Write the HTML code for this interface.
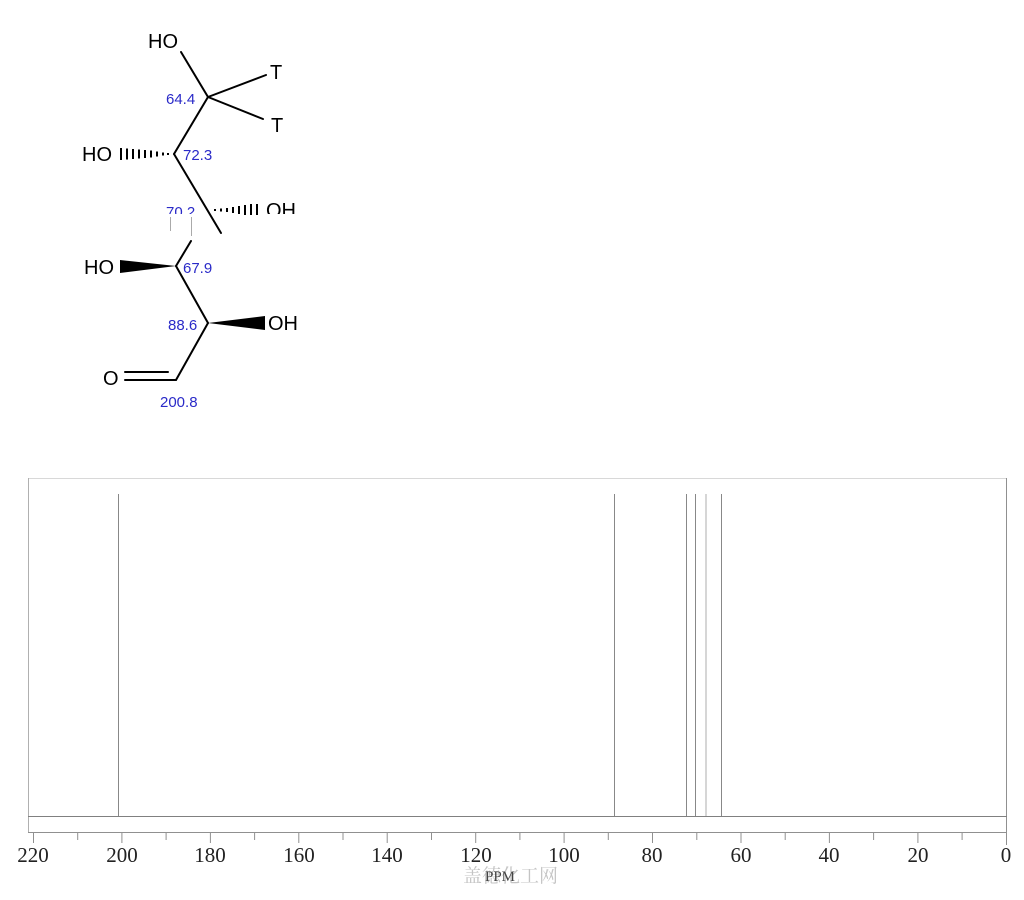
<!DOCTYPE html>
<html><head><meta charset="utf-8"><style>
html,body{margin:0;padding:0;background:#fff;}
svg{display:block;}
</style></head><body>
<svg width="1024" height="900" viewBox="0 0 1024 900" xmlns="http://www.w3.org/2000/svg">
<rect width="1024" height="900" fill="#fff"/>
<!-- Structure -->
<g stroke="#000" stroke-width="2" fill="none" stroke-linecap="round">
<line x1="181" y1="52" x2="208" y2="97"/>
<line x1="208" y1="97" x2="266" y2="75"/>
<line x1="208" y1="97" x2="263" y2="119"/>
<line x1="208" y1="97" x2="174" y2="154"/>
<line x1="174" y1="154" x2="221" y2="233"/>
<line x1="191" y1="241" x2="176" y2="266"/>
<line x1="176" y1="266" x2="208" y2="323"/>
<line x1="208" y1="323" x2="176" y2="380"/>
<line x1="125" y1="380" x2="176" y2="380"/>
<line x1="125" y1="372" x2="168" y2="372"/>
</g>
<!-- hashed wedge C2 -->
<g stroke="#000" stroke-width="2">
<line x1="121" y1="148" x2="121" y2="160"/>
<line x1="127" y1="148.5" x2="127" y2="159.5"/>
<line x1="133" y1="149" x2="133" y2="159"/>
<line x1="139" y1="149.5" x2="139" y2="158.5"/>
<line x1="145" y1="150" x2="145" y2="158"/>
<line x1="151" y1="150.5" x2="151" y2="157.5"/>
<line x1="157" y1="151.5" x2="157" y2="156.5"/>
<line x1="163" y1="152.5" x2="163" y2="155.5"/>
<line x1="168" y1="153" x2="168" y2="155"/>
</g>
<!-- hashed wedge C3 -->
<g stroke="#000" stroke-width="2">
<line x1="215" y1="209" x2="215" y2="211"/>
<line x1="221" y1="208.5" x2="221" y2="211.5"/>
<line x1="227" y1="208" x2="227" y2="212"/>
<line x1="233" y1="207" x2="233" y2="213"/>
<line x1="239" y1="206" x2="239" y2="214"/>
<line x1="245" y1="205" x2="245" y2="215"/>
<line x1="251" y1="204" x2="251" y2="215"/>
<line x1="257" y1="204" x2="257" y2="215"/>
</g>
<rect x="262" y="196" width="40" height="18" fill="#fff"/>
<!-- solid wedges -->
<polygon points="120,260 120,273 176,266" fill="#000"/>
<polygon points="265,316 265,330 208,323" fill="#000"/>
<g stroke="#aaa" stroke-width="1">
<line x1="170.5" y1="217" x2="170.5" y2="231"/>
<line x1="191.5" y1="217" x2="191.5" y2="236"/>
</g>
<g font-family="Liberation Sans, Arial, sans-serif" font-size="20" fill="#000">
<text x="148" y="48">HO</text>
<text x="270" y="79">T</text>
<text x="271" y="132">T</text>
<text x="82" y="161">HO</text>
<text x="84" y="274">HO</text>
<text x="268" y="330">OH</text>
<text x="103" y="385">O</text>
</g>
<svg x="260" y="196" width="45" height="18" overflow="hidden"><text x="6" y="21" font-family="Liberation Sans, Arial, sans-serif" font-size="20" fill="#000">OH</text></svg>
<g font-family="Liberation Sans, Arial, sans-serif" font-size="15" fill="#2a2ac8">
<text x="166" y="104">64.4</text>
<text x="183" y="160">72.3</text>
<text x="183" y="273">67.9</text>
<text x="168" y="330">88.6</text>
<text x="160" y="407">200.8</text>
</g>
<svg x="160" y="198" width="45" height="16" overflow="hidden"><text x="6" y="19" font-family="Liberation Sans, Arial, sans-serif" font-size="15" fill="#2a2ac8">70.2</text></svg>

<!-- Spectrum box -->
<line x1="28" y1="478.5" x2="1006" y2="478.5" stroke="#d8d8d8" stroke-width="1"/>
<line x1="28.5" y1="478" x2="28.5" y2="832" stroke="#b0b0b0" stroke-width="1"/>
<line x1="1006.5" y1="478" x2="1006.5" y2="832" stroke="#909090" stroke-width="1"/>
<line x1="28" y1="832.5" x2="1007" y2="832.5" stroke="#909090" stroke-width="1"/>
<line x1="28" y1="816.5" x2="1007" y2="816.5" stroke="#808080" stroke-width="1"/>
<!-- peaks -->
<g stroke="#888" stroke-width="1">
<line x1="118.5" y1="494" x2="118.5" y2="816"/>
<line x1="614.5" y1="494" x2="614.5" y2="816"/>
<line x1="686.5" y1="494" x2="686.5" y2="816"/>
<line x1="695.5" y1="494" x2="695.5" y2="816"/>
<line x1="706" y1="494" x2="706" y2="816" stroke="#c8c8c8" stroke-width="1.5"/>
<line x1="721.5" y1="494" x2="721.5" y2="816"/>
</g>
<!-- ticks -->
<g stroke="#909090" stroke-width="1">
<line x1="33.5" y1="832" x2="33.5" y2="843"/>
<line x1="77.7" y1="832" x2="77.7" y2="840"/>
<line x1="121.9" y1="832" x2="121.9" y2="843"/>
<line x1="166.1" y1="832" x2="166.1" y2="840"/>
<line x1="210.4" y1="832" x2="210.4" y2="843"/>
<line x1="254.6" y1="832" x2="254.6" y2="840"/>
<line x1="298.8" y1="832" x2="298.8" y2="843"/>
<line x1="343.0" y1="832" x2="343.0" y2="840"/>
<line x1="387.2" y1="832" x2="387.2" y2="843"/>
<line x1="431.5" y1="832" x2="431.5" y2="840"/>
<line x1="475.7" y1="832" x2="475.7" y2="843"/>
<line x1="519.9" y1="832" x2="519.9" y2="840"/>
<line x1="564.1" y1="832" x2="564.1" y2="843"/>
<line x1="608.3" y1="832" x2="608.3" y2="840"/>
<line x1="652.5" y1="832" x2="652.5" y2="843"/>
<line x1="696.8" y1="832" x2="696.8" y2="840"/>
<line x1="741.0" y1="832" x2="741.0" y2="843"/>
<line x1="785.2" y1="832" x2="785.2" y2="840"/>
<line x1="829.4" y1="832" x2="829.4" y2="843"/>
<line x1="873.6" y1="832" x2="873.6" y2="840"/>
<line x1="917.9" y1="832" x2="917.9" y2="843"/>
<line x1="962.1" y1="832" x2="962.1" y2="840"/>
<line x1="1006.5" y1="832" x2="1006.5" y2="845"/>
</g>
<g font-family="Liberation Serif, serif" font-size="21" fill="#222" text-anchor="middle">
<text x="33" y="862">220</text>
<text x="122" y="862">200</text>
<text x="210" y="862">180</text>
<text x="299" y="862">160</text>
<text x="387" y="862">140</text>
<text x="476" y="862">120</text>
<text x="564" y="862">100</text>
<text x="652" y="862">80</text>
<text x="741" y="862">60</text>
<text x="829" y="862">40</text>
<text x="918" y="862">20</text>
<text x="1006" y="862">0</text>
</g>
<text x="463" y="882" font-family="Liberation Serif, 'Noto Serif CJK SC', serif" font-size="19" fill="#c4c4c4">盖德化工网</text>
<text x="500" y="881" text-anchor="middle" font-family="Liberation Serif, serif" font-size="15" fill="#444">PPM</text>
</svg>
</body></html>
